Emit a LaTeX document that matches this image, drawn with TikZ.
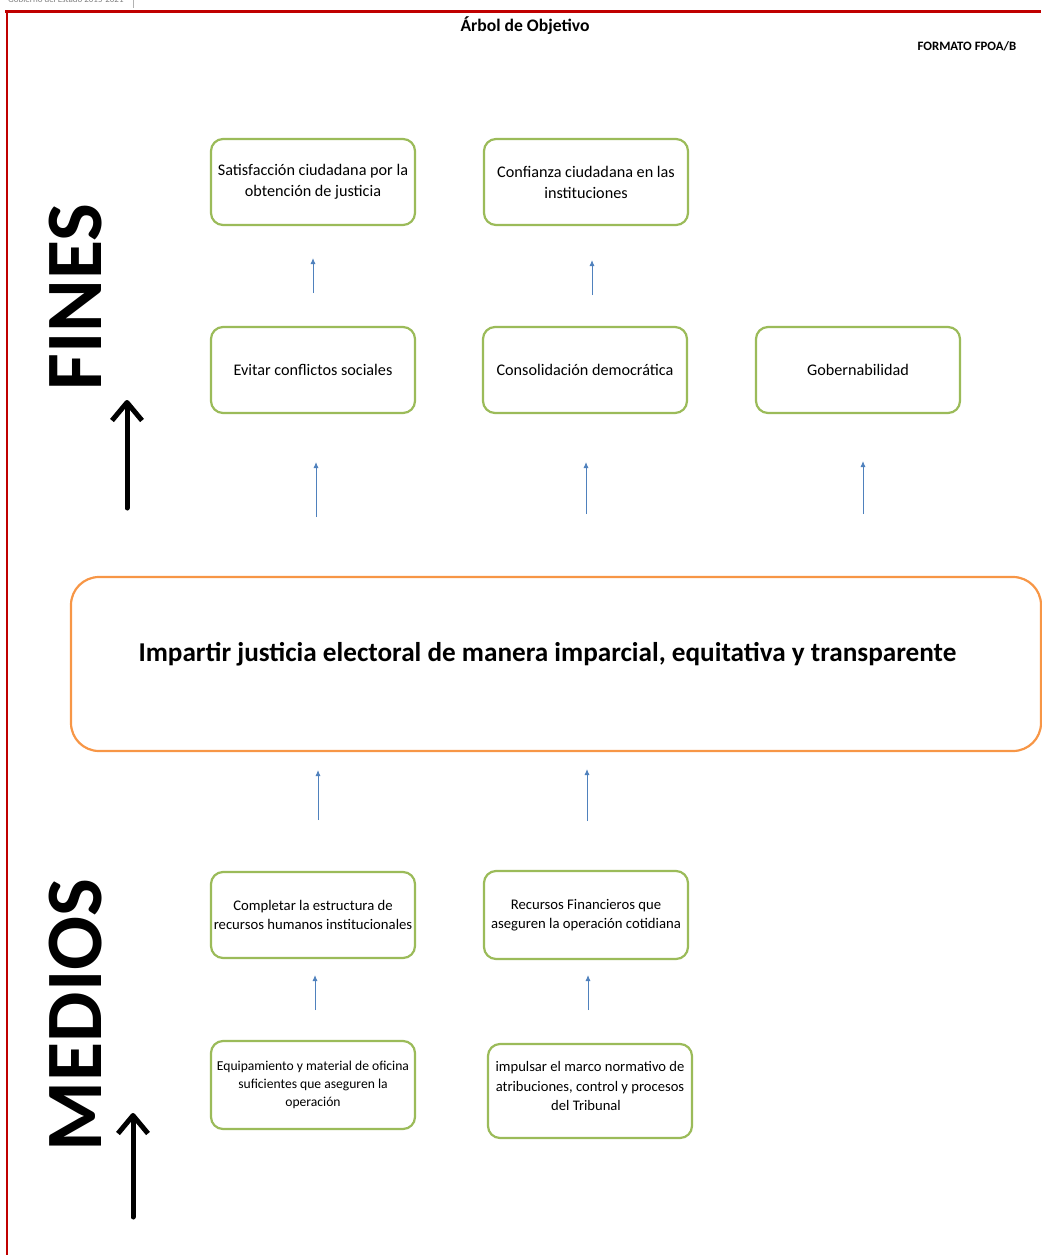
\documentclass[tikz,border=0pt]{standalone}
\usepackage{fontspec}
\setmainfont{Carlito}
\usetikzlibrary{arrows.meta}
\definecolor{grc}{HTML}{9BBB59}
\definecolor{orc}{HTML}{F79646}
\definecolor{blc}{HTML}{4F81BD}
\definecolor{frc}{HTML}{C00000}
\begin{document}
\begin{tikzpicture}[x=1pt, y=-1pt, node distance=273pt,
  goal/.style={rectangle, rounded corners=12pt, draw=grc, line width=2.2pt, minimum width=204pt, minimum height=86pt, align=center, inner sep=1pt, font=\fontsize{16.2}{21}\selectfont},
  aim/.style={rectangle, rounded corners=28pt, draw=orc, line width=2.2pt, minimum width=970pt, minimum height=174pt, text depth=24pt, font=\bfseries\fontsize{27.2}{30}\selectfont},
  small/.style={font=\fontsize{14.7}{19.5}\selectfont},
  up/.style={-{Latex[length=6pt,width=5pt]}, blc, line width=0.9pt},
  bigup/.style={-{Straight Barb[length=18pt,width=30pt,line join=round]}, line width=5pt, line cap=round},
  side/.style={rotate=90, font=\bfseries\fontsize{80}{80}\selectfont}]

    \useasboundingbox (0,0) rectangle (1041,1255);

    % header
    \node[anchor=base west, gray, inner sep=0pt, font=\fontsize{9}{10}\selectfont] (gob) at (8,3) {Gobierno del Estado 2015-2021};
    \draw[gray!60] (133,0) -- (133,8);
    \draw[frc, line width=3pt] (5,12) -- (1041,12);
    \draw[frc, line width=1.5pt] (7,12) -- (7,1255);
    \node[font=\bfseries\fontsize{17.6}{20}\selectfont] (title) at (525,26) {Árbol de Objetivo};
    \node[font=\bfseries\fontsize{12.8}{14}\selectfont] (fmt) at (967,46) {FORMATO FPOA/B};

    % fines
    \node[goal] (sat) at (313,182) {Satisfacción ciudadana por la\\obtención de justicia};
    \node[goal, right of=sat] (conf) {Confianza ciudadana en las\\instituciones};
    \node[goal, below of=sat, node distance=188pt] (evit) {Evitar conflictos sociales};
    \node[goal, right of=evit, node distance=272pt] (cons) {Consolidación democrática};
    \node[goal, right of=cons] (gob2) {Gobernabilidad};

    % objetivo
    \node[aim] (obj) at (556,664) {Impartir justicia electoral de manera imparcial, equitativa y transparente\hspace*{17pt}};

    % medios
    \node[goal, small, minimum height=86pt] (rh) at (313,915) {Completar la estructura de\\recursos humanos institucionales};
    \node[goal, small, right of=rh, minimum height=88pt] (fin) {Recursos Financieros que\\aseguren la operación cotidiana};
    \node[goal, below of=rh, node distance=170pt, minimum height=88pt, font=\fontsize{13.6}{18}\selectfont] (equip) {Equipamiento y material de oficina\\suficientes que aseguren la\\operación};
    \node[goal, right of=equip, node distance=277pt, yshift=-6pt, minimum height=94pt, text depth=10pt, font=\fontsize{14.6}{19.5}\selectfont] (marco) {impulsar el marco normativo de\\atribuciones, control y procesos\\del Tribunal\hspace*{8pt}};

    \node[side] (fines) at (76,297) {FINES};
    \node[side] (medios) at (76,1015) {MEDIOS};

    % arrow ends
    \coordinate (a1) at (313,293); \coordinate (b1) at (313,258);
    \coordinate (a2) at (592,295); \coordinate (b2) at (592,260);
    \coordinate (a3) at (316,517); \coordinate (b3) at (316,462);
    \coordinate (a4) at (586,514); \coordinate (b4) at (586,462);
    \coordinate (a5) at (863,514); \coordinate (b5) at (863,461);
    \coordinate (a6) at (318,820); \coordinate (b6) at (318,770);
    \coordinate (a7) at (587,821); \coordinate (b7) at (587,769);
    \coordinate (a8) at (315,1010); \coordinate (b8) at (315,975);
    \coordinate (a9) at (588,1010); \coordinate (b9) at (588,975);
    \coordinate (fa) at (127,508); \coordinate (fb) at (127,400);
    \coordinate (ma) at (133,1217); \coordinate (mb) at (133,1113);

    \draw[up] (a1) -- (b1);
    \draw[up] (a2) -- (b2);
    \draw[up] (a3) -- (b3);
    \draw[up] (a4) -- (b4);
    \draw[up] (a5) -- (b5);
    \draw[up] (a6) -- (b6);
    \draw[up] (a7) -- (b7);
    \draw[up] (a8) -- (b8);
    \draw[up] (a9) -- (b9);
    \draw[bigup] (fa) -- (fb);
    \draw[bigup] (ma) -- (mb);

  \end{tikzpicture}
\end{document}
